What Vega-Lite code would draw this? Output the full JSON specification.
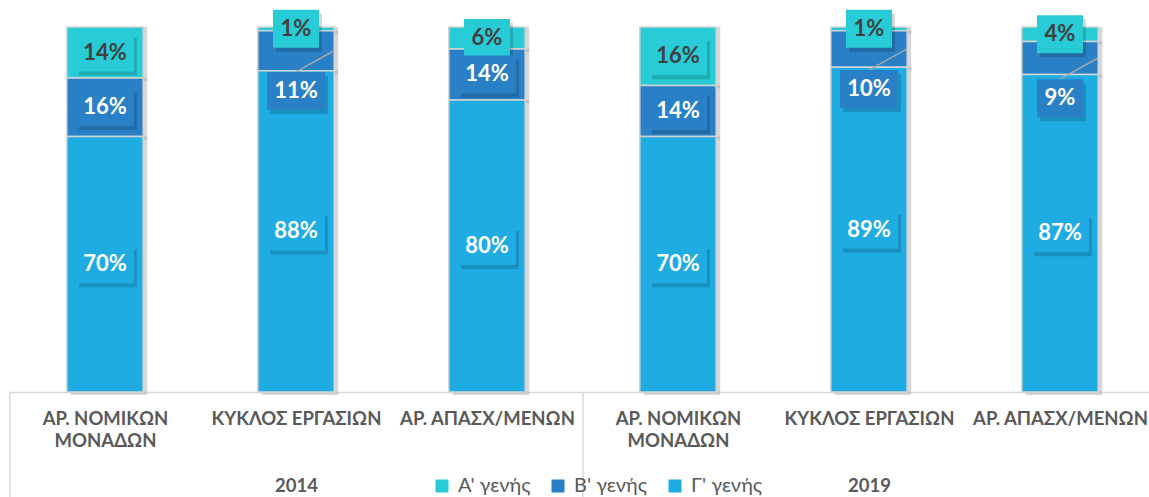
{
  "$schema": "https://vega.github.io/schema/vega-lite/v6.json",
  "width": 1139.5,
  "height": 365,
  "autosize": "none",
  "padding": {"left": 9.5, "top": 27, "right": 0, "bottom": 105},
  "background": "white",
  "config": {"view": {"stroke": null}, "font": "Lato"},
  "data": {
    "values": [
      {"year": "2014", "cat": "ΑΡ. ΝΟΜΙΚΩΝ ΜΟΝΑΔΩΝ", "gen": "Α' γενής", "value": 14},
      {"year": "2014", "cat": "ΑΡ. ΝΟΜΙΚΩΝ ΜΟΝΑΔΩΝ", "gen": "Β' γενής", "value": 16},
      {"year": "2014", "cat": "ΑΡ. ΝΟΜΙΚΩΝ ΜΟΝΑΔΩΝ", "gen": "Γ' γενής", "value": 70},
      {"year": "2014", "cat": "ΚΥΚΛΟΣ ΕΡΓΑΣΙΩΝ", "gen": "Α' γενής", "value": 1},
      {"year": "2014", "cat": "ΚΥΚΛΟΣ ΕΡΓΑΣΙΩΝ", "gen": "Β' γενής", "value": 11},
      {"year": "2014", "cat": "ΚΥΚΛΟΣ ΕΡΓΑΣΙΩΝ", "gen": "Γ' γενής", "value": 88},
      {"year": "2014", "cat": "ΑΡ. ΑΠΑΣΧ/ΜΕΝΩΝ", "gen": "Α' γενής", "value": 6},
      {"year": "2014", "cat": "ΑΡ. ΑΠΑΣΧ/ΜΕΝΩΝ", "gen": "Β' γενής", "value": 14},
      {"year": "2014", "cat": "ΑΡ. ΑΠΑΣΧ/ΜΕΝΩΝ", "gen": "Γ' γενής", "value": 80},
      {"year": "2019", "cat": "ΑΡ. ΝΟΜΙΚΩΝ ΜΟΝΑΔΩΝ", "gen": "Α' γενής", "value": 16},
      {"year": "2019", "cat": "ΑΡ. ΝΟΜΙΚΩΝ ΜΟΝΑΔΩΝ", "gen": "Β' γενής", "value": 14},
      {"year": "2019", "cat": "ΑΡ. ΝΟΜΙΚΩΝ ΜΟΝΑΔΩΝ", "gen": "Γ' γενής", "value": 70},
      {"year": "2019", "cat": "ΚΥΚΛΟΣ ΕΡΓΑΣΙΩΝ", "gen": "Α' γενής", "value": 1},
      {"year": "2019", "cat": "ΚΥΚΛΟΣ ΕΡΓΑΣΙΩΝ", "gen": "Β' γενής", "value": 10},
      {"year": "2019", "cat": "ΚΥΚΛΟΣ ΕΡΓΑΣΙΩΝ", "gen": "Γ' γενής", "value": 89},
      {"year": "2019", "cat": "ΑΡ. ΑΠΑΣΧ/ΜΕΝΩΝ", "gen": "Α' γενής", "value": 4},
      {"year": "2019", "cat": "ΑΡ. ΑΠΑΣΧ/ΜΕΝΩΝ", "gen": "Β' γενής", "value": 9},
      {"year": "2019", "cat": "ΑΡ. ΑΠΑΣΧ/ΜΕΝΩΝ", "gen": "Γ' γενής", "value": 87}
    ]
  },
  "transform": [
    {"calculate": "datum.year + '|' + datum.cat", "as": "key"},
    {"calculate": "indexof([\"Γ' γενής\", \"Β' γενής\", \"Α' γενής\"], datum.gen)", "as": "ord"},
    {"stack": "value", "groupby": ["key"], "sort": [{"field": "ord", "order": "ascending"}], "as": ["v0", "v1"]},
    {"calculate": "(datum.v0 + datum.v1) / 2", "as": "smid"},
    {"calculate": "datum.smid - (datum.gen == \"Β' γενής\" && datum.value <= 11 ? 11 : 0)", "as": "mid"},
    {"calculate": "datum.value + '%'", "as": "lab"}
  ],
  "encoding": {
    "x": {
      "field": "key",
      "type": "nominal",
      "sort": null,
      "scale": {"range": [0, 1146], "paddingInner": 0.6, "paddingOuter": 0.3},
      "axis": {
        "title": null,
        "domainColor": "#d9d9d9",
        "domainWidth": 1.5,
        "ticks": true,
        "tickSize": 105,
        "tickColor": "#d9d9d9",
        "tickWidth": 1.5,
        "tickOffset": -95.5,
        "labelOffset": 95.5,
        "tickOpacity": {"condition": {"test": "test(/ΝΟΜΙΚΩΝ/, '' + datum.value)", "value": 1}, "value": 0},
        "labelExpr": "test(/ΝΟΜΙΚΩΝ/, '' + datum.value) ? ['ΑΡ. ΝΟΜΙΚΩΝ','ΜΟΝΑΔΩΝ'] : test(/ΚΥΚΛΟΣ/, '' + datum.value) ? ['ΚΥΚΛΟΣ ΕΡΓΑΣΙΩΝ','\u200b','\u200b',substring('' + datum.value, 0, 4)] : 'ΑΡ. ΑΠΑΣΧ/ΜΕΝΩΝ'",
        "labelAngle": 0,
        "labelBaseline": "top",
        "labelPadding": -88,
        "labelLineHeight": 22.5,
        "labelFont": "Lato",
        "labelFontWeight": "bold",
        "labelFontSize": 18.5,
        "labelColor": "#595959",
        "labelLimit": 400,
        "labelOverlap": false,
        "labelBound": false
      }
    },
    "y": {"field": "v0", "type": "quantitative", "scale": {"domain": [0, 100], "nice": false}, "axis": null}
  },
  "layer": [
    {
      "mark": {"type": "bar", "fill": "#9a9a9a", "opacity": 0.4, "xOffset": 4, "yOffset": 3},
      "encoding": {"y2": {"field": "v1"}}
    },
    {
      "mark": {"type": "bar", "stroke": "#d3d3d3", "strokeWidth": 1.5},
      "encoding": {
        "y2": {"field": "v1"},
        "color": {
          "field": "gen",
          "type": "nominal",
          "scale": {"domain": ["Α' γενής", "Β' γενής", "Γ' γενής"], "range": ["#27CCD6", "#2980C6", "#1FACE3"]},
          "legend": {
            "title": null,
            "orient": "none",
            "legendX": 422.5,
            "legendY": 449,
            "direction": "horizontal",
            "symbolType": "square",
            "symbolSize": 169,
            "symbolStrokeWidth": 0,
            "labelFont": "Lato",
            "labelFontSize": 20,
            "labelColor": "#595959",
            "columnPadding": 17,
            "labelOffset": 6,
            "padding": 0
          }
        }
      }
    },
    {
      "transform": [{"filter": "datum.gen == \"Β' γενής\" && datum.value <= 11"}],
      "mark": {"type": "rule", "color": "#a6a6a6", "strokeWidth": 1.5, "yOffset": -19, "x2Offset": 38},
      "encoding": {
        "y": {"field": "mid", "type": "quantitative"},
        "y2": {"field": "smid"},
        "x2": {"field": "key"}
      }
    },
    {
      "mark": {"type": "point", "filled": true, "fill": "#000000", "opacity": 0.16, "strokeWidth": 0, "xOffset": 3, "yOffset": 4},
      "encoding": {
        "y": {"field": "mid", "type": "quantitative"},
        "shape": {"condition": {"test": "datum.value < 10", "value": "M-1.21,-1H1.21V1H-1.21Z"}, "value": "M-1.526,-1H1.526V1H-1.526Z"},
        "size": {"value": 1444}
      }
    },
    {
      "mark": {"type": "point", "filled": true, "opacity": 1, "strokeWidth": 0},
      "encoding": {
        "y": {"field": "mid", "type": "quantitative"},
        "color": {"field": "gen", "type": "nominal", "legend": null},
        "shape": {"condition": {"test": "datum.value < 10", "value": "M-1.21,-1H1.21V1H-1.21Z"}, "value": "M-1.526,-1H1.526V1H-1.526Z"},
        "size": {"value": 1444}
      }
    },
    {
      "mark": {"type": "text", "font": "Lato", "fontWeight": "bold", "fontSize": 22, "baseline": "middle", "align": "center"},
      "encoding": {
        "y": {"field": "mid", "type": "quantitative"},
        "text": {"field": "lab"},
        "color": {"condition": {"test": "datum.gen == \"Α' γενής\"", "value": "#404040"}, "value": "#ffffff"}
      }
    }
  ]
}
